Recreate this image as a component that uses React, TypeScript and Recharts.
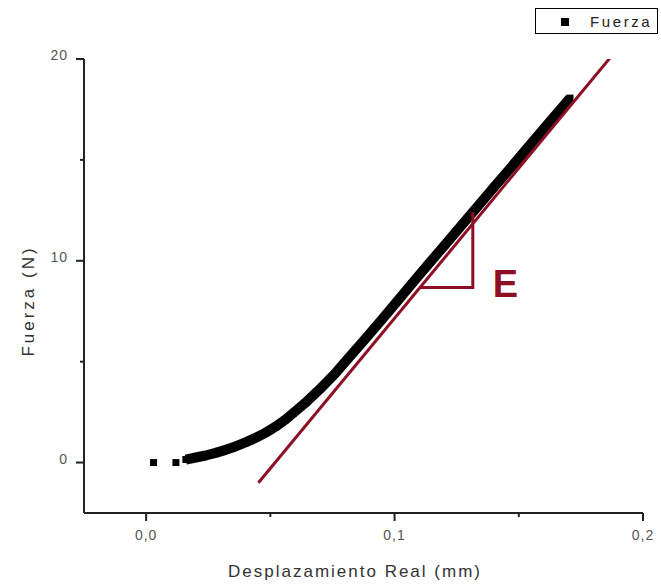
import React from 'react';
import { ScatterChart, Scatter, XAxis, YAxis, ZAxis, Legend, ReferenceDot, Label } from 'recharts';

// puntos medidos (desplazamiento mm, fuerza N)
const sparseX = [0.003, 0.012];
const sparseY = [0, 0];

const curveX = [0.016, 0.02, 0.024, 0.028, 0.032, 0.036, 0.04, 0.044, 0.048, 0.052, 0.056, 0.059, 0.064, 0.07, 0.076, 0.0806, 0.088, 0.095, 0.101, 0.107, 0.113, 0.12, 0.127, 0.133, 0.14, 0.148, 0.1556, 0.163, 0.1706];
const curveY = [0.15, 0.25, 0.35, 0.48, 0.63, 0.8, 1.0, 1.22, 1.47, 1.77, 2.12, 2.43, 2.95, 3.65, 4.4, 5.06, 6.1, 7.1, 7.98, 8.87, 9.74, 10.75, 11.76, 12.63, 13.64, 14.79, 15.9, 16.96, 18.06];

// recta de ajuste (pendiente E)
const fitX = [0.0452, 0.1867];
const fitY = [-1.0, 20.05];

// triangulo de pendiente
const triX = [0.1103, 0.1315, 0.1315];
const triY = [8.68, 8.68, 12.4];

const xTicks = [0, 0.05, 0.1, 0.15, 0.2];
const yTicks = [0, 5, 10, 15, 20];

const RED = '#8e0f23';
const AXIS = '#222';
const FONT = '"Liberation Sans", Arial, sans-serif';

const zip = (xs: number[], ys: number[]) => xs.map((x, i) => ({ x, y: ys[i] }));
const sparse = zip(sparseX, sparseY);
const curve = zip(curveX, curveY);
const fit = zip(fitX, fitY);
const tri = zip(triX, triY);

const Square = (p: any) => <rect x={p.cx - 3.5} y={p.cy - 3.5} width={7} height={7} fill="#000" />;
const None = () => null;

const isMajorX = (v: number) => Math.abs(v * 10 - Math.round(v * 10)) < 1e-6;

const XTick = (props: any) => {
  const { x, y, payload } = props;
  const major = isMajorX(payload.value);
  return (
    <g>
      <line x1={x} x2={x} y1={y} y2={y + (major ? 8 : 4)} stroke={AXIS} strokeWidth={2} />
      {major && (
        <text x={x} y={y + 27} textAnchor="middle" fill="#555" fontSize={14} letterSpacing={1} fontFamily={FONT}>
          {payload.value.toFixed(1).replace('.', ',')}
        </text>
      )}
    </g>
  );
};

const YTick = (props: any) => {
  const { x, y, payload } = props;
  const major = payload.value % 10 === 0;
  return (
    <g>
      <line x1={x} x2={x - (major ? 8 : 4)} y1={y} y2={y} stroke={AXIS} strokeWidth={2} />
      {major && (
        <text x={x - 16} y={y + 1} textAnchor="end" fill="#555" fontSize={14} letterSpacing={1} fontFamily={FONT}>
          {payload.value}
        </text>
      )}
    </g>
  );
};

const LegendBox = () => (
  <svg width={124} height={27} style={{ display: 'block' }}>
    <rect x={0.5} y={0.5} width={122} height={25} fill="#fff" stroke="#000" />
    <rect x={26} y={10} width={8} height={8} fill="#000" />
    <text x={55} y={19} fontSize={15} fontFamily={FONT} letterSpacing={2.6} fill="#222">Fuerza</text>
  </svg>
);

export default function App() {
  return (
    <div style={{ position: 'fixed', left: 0, top: 0, width: 661, height: 588, background: '#fff' }}>
      <ScatterChart width={661} height={588} margin={{ top: 59, right: 18, bottom: 0, left: 0 }}>
        <XAxis
          type="number"
          dataKey="x"
          domain={[-0.025, 0.2]}
          ticks={xTicks}
          tick={<XTick />}
          tickSize={0}
          tickMargin={0}
          tickLine={false}
          height={75}
          axisLine={{ stroke: AXIS, strokeWidth: 2 }}
          allowDataOverflow
        >
          <Label
            content={() => (
              <text x={355} y={577} textAnchor="middle" fontSize={17} fontFamily={FONT} letterSpacing={2} fill="#333">
                Desplazamiento Real (mm)
              </text>
            )}
          />
        </XAxis>
        <YAxis
          type="number"
          dataKey="y"
          domain={[-2.5, 20]}
          ticks={yTicks}
          tick={<YTick />}
          tickSize={0}
          tickMargin={0}
          tickLine={false}
          width={84}
          axisLine={{ stroke: AXIS, strokeWidth: 2 }}
          allowDataOverflow
        >
          <Label
            content={() => (
              <text transform="translate(34,301) rotate(-90)" textAnchor="middle" fontSize={17} fontFamily={FONT} letterSpacing={3} fill="#333">
                Fuerza (N)
              </text>
            )}
          />
        </YAxis>
        <ZAxis range={[49, 49]} />
        <Legend
          layout="vertical"
          align="center"
          verticalAlign="middle"
          wrapperStyle={{ left: 535, top: 8, width: 124 }}
          content={() => <LegendBox />}
        />
        <Scatter name="Fuerza" data={sparse} shape={<Square />} isAnimationActive={false} />
        <Scatter
          data={curve}
          shape={<Square />}
          line={{ stroke: '#000', strokeWidth: 10, strokeLinejoin: 'round' }}
          isAnimationActive={false}
          legendType="none"
        />
        <Scatter data={fit} shape={<None />} line={{ stroke: RED, strokeWidth: 3 }} isAnimationActive={false} legendType="none" />
        <Scatter data={tri} shape={<None />} line={{ stroke: RED, strokeWidth: 3 }} isAnimationActive={false} legendType="none" />
        <ReferenceDot
          x={0.1395}
          y={8.19}
          r={0}
          shape={(p: any) => (
            <text x={p.cx} y={p.cy} fontSize={38} fontWeight="bold" fontFamily={FONT} fill={RED}>
              E
            </text>
          )}
        />
      </ScatterChart>
    </div>
  );
}
